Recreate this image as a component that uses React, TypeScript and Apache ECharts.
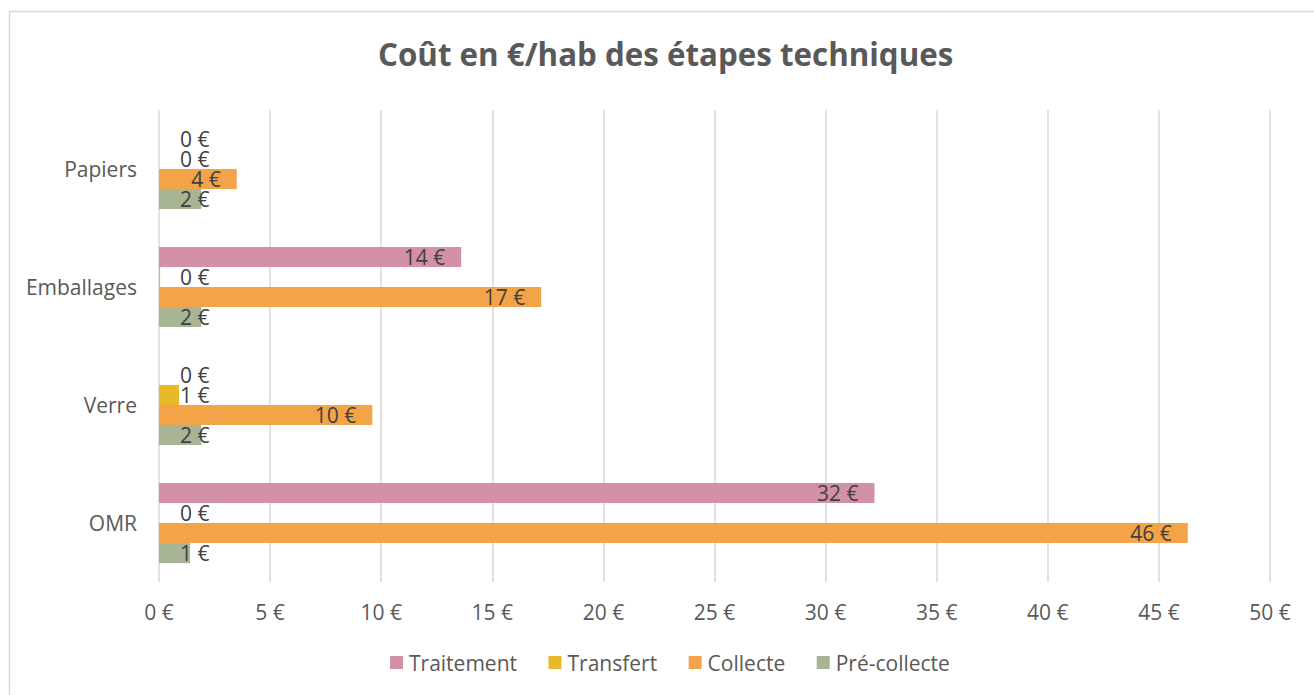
import React, { useEffect, useRef } from "react";
import * as echarts from "echarts";

const title = "Coût en €/hab des étapes techniques";
const categories = ["OMR", "Verre", "Emballages", "Papiers"];
const seriesNames = ["Traitement", "Transfert", "Collecte", "Pré-collecte"];
const traitement = [32.2, 0, 13.6, 0];
const transfert = [0, 0.9, 0.05, 0];
const collecte = [46.3, 9.6, 17.2, 3.5];
const preCollecte = [1.4, 1.9, 1.9, 1.9];
const colors = ["#D291A5", "#E6BA28", "#F3A448", "#A7B594"];
const xTicks = { min: 0, max: 50, interval: 5 };

const FONT = "'Open Sans', 'Noto Sans', sans-serif";

export default function App() {
  const ref = useRef<HTMLDivElement>(null);
  useEffect(() => {
    if (!ref.current) return;
    const chart = echarts.init(ref.current, null, { renderer: "svg" });
    const allValues = [traitement, transfert, collecte, preCollecte];
    const mkData = (vals: number[]) =>
      vals.map((v) =>
        v < 3
          ? {
              value: v,
              label: { position: [21, "50%"], align: "left", verticalAlign: "middle" },
            }
          : v
      );
    chart.setOption({
      animation: false,
      textStyle: { fontFamily: FONT },
      title: {
        text: title,
        left: 373,
        top: 33,
        textStyle: { fontFamily: FONT, fontSize: 31.3, fontWeight: "bold", color: "#595959" },
      },
      legend: {
        data: seriesNames,
        bottom: 17,
        left: 385,
        itemWidth: 13,
        itemHeight: 13,
        itemGap: 31.5,
        icon: "rect",
        textStyle: { fontFamily: FONT, fontSize: 21, color: "#595959", padding: [0, 0, 0, 1] },
      },
      graphic: [
        {
          type: "rect",
          shape: { x: 9.5, y: 11.5, width: 1330, height: 720 },
          style: { fill: "none", stroke: "#d9d9d9", lineWidth: 1.5 },
          silent: true,
        },
      ],
      grid: { left: 159, right: 44, top: 110, bottom: 113, containLabel: false },
      xAxis: {
        type: "value",
        min: xTicks.min,
        max: xTicks.max,
        interval: xTicks.interval,
        axisLine: { show: false },
        axisTick: { show: false },
        splitLine: { lineStyle: { color: "#d9d9d9", width: 1.5 } },
        axisLabel: {
          formatter: (v: number) => `${v} €`,
          fontFamily: FONT,
          fontSize: 21,
          color: "#595959",
          margin: 19,
        },
      },
      yAxis: {
        type: "category",
        data: categories,
        axisLine: { show: false },
        axisTick: { show: false },
        axisLabel: { fontFamily: FONT, fontSize: 21, color: "#595959", margin: 22 },
      },
      series: seriesNames.map((name, i) => ({
        name,
        type: "bar",
        data: mkData(allValues[i]),
        barGap: "0%",
        barCategoryGap: "32%",
        itemStyle: { color: colors[i] },
        label: {
          show: true,
          position: "insideRight",
          distance: 16,
          fontFamily: FONT,
          fontSize: 21,
          color: "#404040",
          formatter: (p: any) => `${Math.round(p.value)} €`,
        },
      })),
    });
    return () => chart.dispose();
  }, []);
  return (
    <div
      ref={ref}
      style={{ position: "fixed", left: 0, top: 0, width: 1314, height: 695, background: "#fff" }}
    />
  );
}
